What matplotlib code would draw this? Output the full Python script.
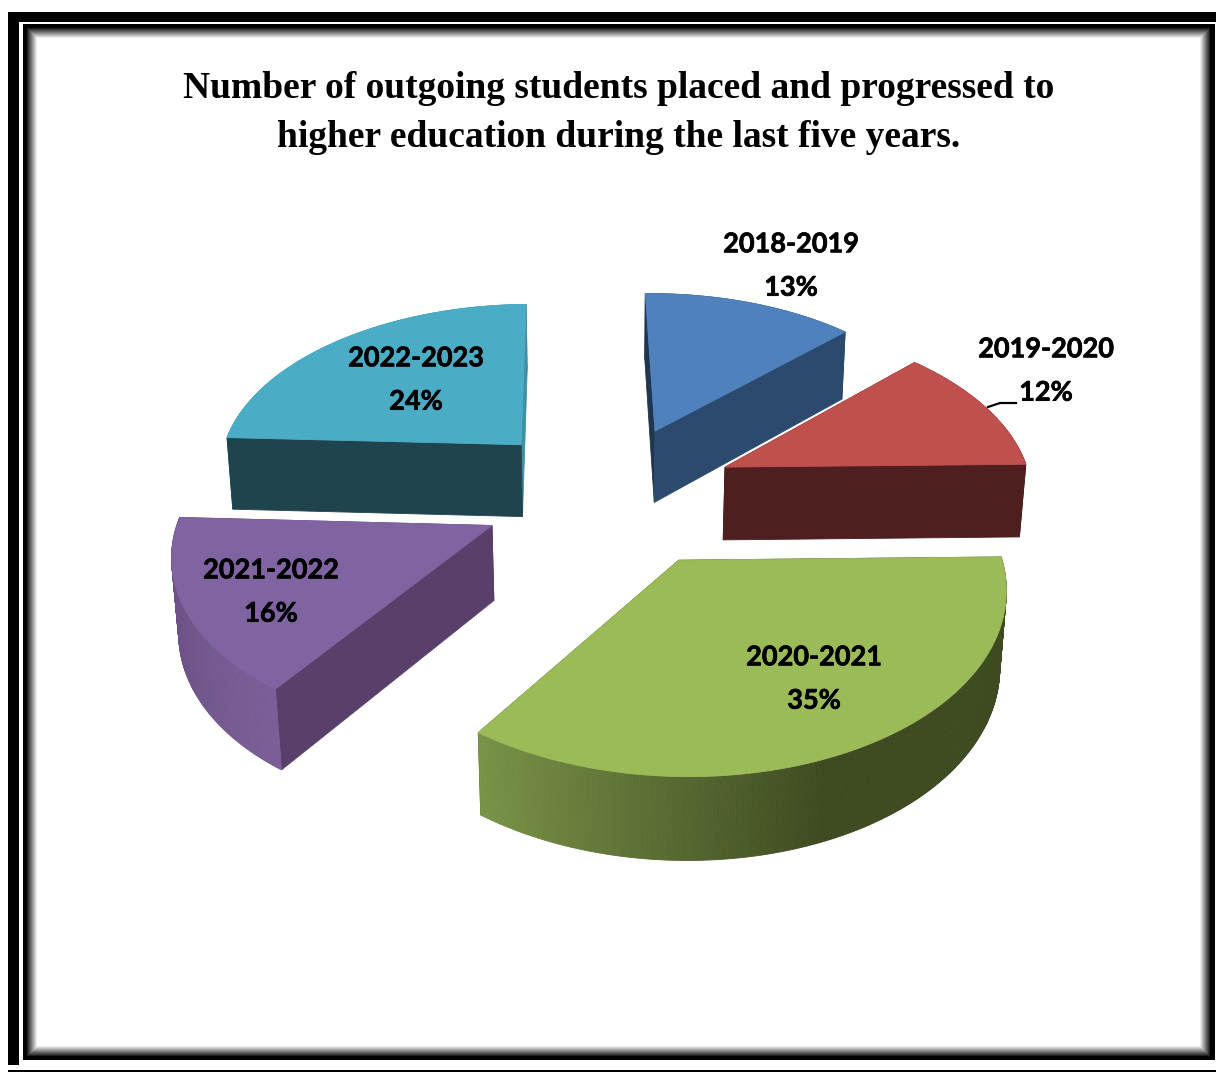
import matplotlib
matplotlib.use('Agg')
import matplotlib.pyplot as plt
import matplotlib.patheffects as pe
import numpy as np
from matplotlib.colors import to_rgb
from matplotlib.patches import Polygon, Rectangle

# Data
years = ['2018-2019', '2019-2020', '2020-2021', '2021-2022', '2022-2023']
shares = [13, 12, 35, 16, 24]
title = 'Number of outgoing students placed and progressed to\nhigher education during the last five years.'

# Colours: top face, wall at start edge, wall at end edge, arc wall from/to
top_cols = ['#4f81bd', '#c0504d', '#9bbb59', '#8064a2', '#4bacc6']
start_wall = ['#1f3550', '#4f1f1f', '#3e4a20', '#59406b', '#1f444e']
end_wall = ['#2c4a6e', '#4f1f1f', '#3e4a20', '#59406b', '#3f8fa6']
arc_from = ['#2c4a6e', '#4f1f1f', '#3e4a20', '#7a5f97', '#3f8fa6']
arc_to = ['#2c4a6e', '#4f1f1f', '#7a9448', '#644a7c', '#3f8fa6']
label_xy = [(791, 265), (1046, 370), (814, 678), (271, 591), (416, 379)]

# Perspective set up of the pie, in pixels
cx, cy = 608, 494
A, B, k = 308, 170, 0.128
explode = [0.42, 0.42, 0.42, 0.41, 0.42]
nudge_x = [0, 0, 7, 0, 0]
first_angle = -1
depth, shrink = 75, 0.016


def project(x, y, z=0.0, dx=0):
    w = 1 + k * y + shrink * z
    return cx + dx + A * x / w, cy + (-B * y + depth * z) / w


def mix(c1, c2, t):
    c1, c2 = np.array(to_rgb(c1)), np.array(to_rgb(c2))
    return tuple(c1 + (c2 - c1) * t)


fig = plt.figure(figsize=(12.16, 10.72), dpi=100)
ax = fig.add_axes([0, 0, 1, 1])
ax.set_xlim(0, 1216)
ax.set_ylim(1072, 0)
ax.axis('off')

# Frame: thick black outline, white gap, thin black line with a soft inner shadow
ax.add_patch(Rectangle((8, 12), 1240, 1060, fc='black', ec='none', zorder=0))
ax.add_patch(Rectangle((19, 22), 1240, 1046, fc='white', ec='none', zorder=0))
ax.add_patch(Rectangle((0, 1065), 1216, 5, fc='white', ec='none', zorder=0))
ax.add_patch(Rectangle((23, 24), 1192, 1036, fc='black', ec='none', zorder=0))
for i in range(11):
    g = min(1, 0.12 + i * 0.09)
    ax.add_patch(Rectangle((27 + i, 28 + i), 1183 - 2 * i, 1028 - 2 * i, fc=(g, g, g), ec='none', zorder=0))

ax.text(619, 113, title, ha='center', va='center', fontsize=27, fontweight='bold',
        family='Liberation Serif', linespacing=1.546)

# Slices, far ones first
edges = np.cumsum([0] + shares) * 3.6 + first_angle
slices = []
for i in range(len(shares)):
    a0, a1 = edges[i], edges[i + 1]
    mid = np.radians((a0 + a1) / 2)
    slices.append((explode[i] * np.cos(mid), i, a0, a1, mid))

for oy, i, a0, a1, mid in sorted(slices, reverse=True):
    ox = explode[i] * np.sin(mid)
    t = np.radians(np.linspace(a0, a1, 2 * int(a1 - a0) + 2))
    xs = ox + np.sin(t)
    ys = oy + np.cos(t)
    dx = nudge_x[i]

    # walls, back to front
    walls = []
    walls.append((max(oy, ys[0]), [(ox, oy), (xs[0], ys[0])], start_wall[i]))
    walls.append((max(oy, ys[-1]), [(ox, oy), (xs[-1], ys[-1])], end_wall[i]))
    for j in range(len(t) - 1):
        f = j / (len(t) - 2)
        if i == 2:
            # green stays dark on the right, then brightens to the left
            f = max(0, (f - 0.55) / 0.45)
        col = mix(arc_from[i], arc_to[i], f)
        walls.append(((ys[j] + ys[j + 1]) / 2, [(xs[j], ys[j]), (xs[j + 1], ys[j + 1])], col))
    for _, seg, col in sorted(walls, key=lambda w: -w[0]):
        (x0, y0), (x1, y1) = seg
        quad = [project(x0, y0, dx=dx), project(x1, y1, dx=dx),
                project(x1, y1, 1, dx=dx), project(x0, y0, 1, dx=dx)]
        ax.add_patch(Polygon(quad, closed=True, fc=col, ec=col, lw=0.6, zorder=2))

    top = [project(ox, oy, dx=dx)] + [project(a, b, dx=dx) for a, b in zip(xs, ys)]
    ax.add_patch(Polygon(top, closed=True, fc=top_cols[i], ec=top_cols[i], lw=0.6, zorder=2))

# Leader line of the 2019-2020 label
ax.plot([988, 1000, 1016], [407, 403, 403], color='black', lw=1.6, zorder=3)

for name, share, (lx, ly) in zip(years, shares, label_xy):
    ax.text(lx, ly + 1, f'{name}\n{share}%', ha='center', va='center', fontsize=19.5,
            fontweight='bold', family='Lato', linespacing=1.97, zorder=4,
            path_effects=[pe.withStroke(linewidth=0.5, foreground='black')])

fig.savefig('out.png', dpi=100)
